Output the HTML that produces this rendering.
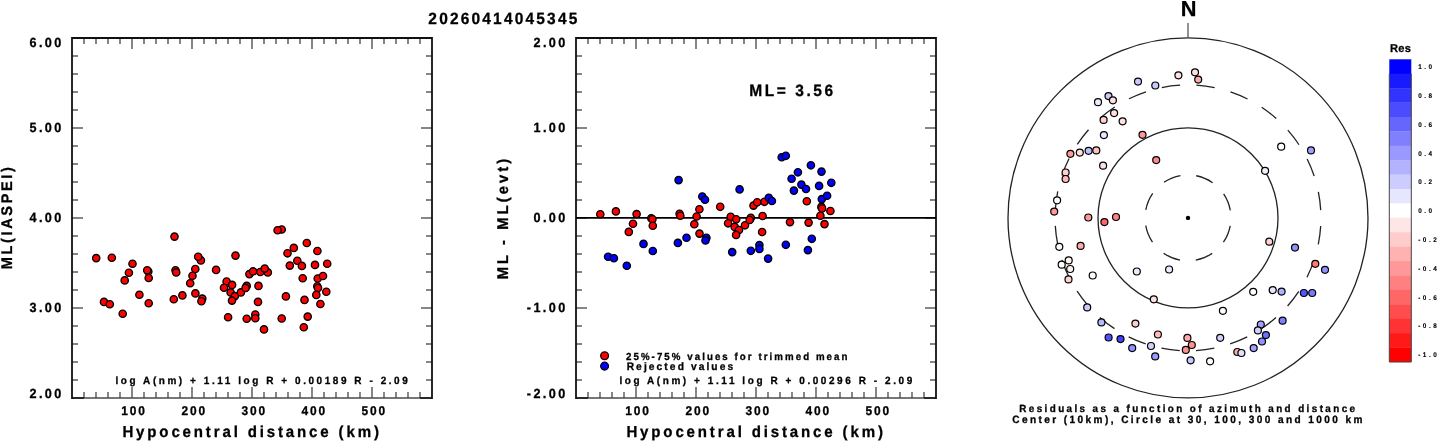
<!DOCTYPE html>
<html><head><meta charset="utf-8"><style>html,body{margin:0;padding:0;background:#fff;}svg{display:block;will-change:transform;} text{text-rendering:geometricPrecision;stroke:#000;stroke-width:0.3px;paint-order:stroke;}</style></head>
<body><svg width="1437" height="441" viewBox="0 0 1437 441" font-family="Liberation Sans, sans-serif" font-weight="bold">
<rect width="1437" height="441" fill="#fff"/>
<text transform="translate(428.35,24) scale(0.95,1)" font-size="16.29" letter-spacing="2.309" fill="#000">20260414045345</text>
<line x1="84" y1="398.0" x2="84" y2="392.0" stroke="#444" stroke-width="1.3" />
<line x1="84" y1="38.0" x2="84" y2="44.0" stroke="#444" stroke-width="1.3" />
<line x1="96" y1="398.0" x2="96" y2="392.0" stroke="#444" stroke-width="1.3" />
<line x1="96" y1="38.0" x2="96" y2="44.0" stroke="#444" stroke-width="1.3" />
<line x1="108" y1="398.0" x2="108" y2="392.0" stroke="#444" stroke-width="1.3" />
<line x1="108" y1="38.0" x2="108" y2="44.0" stroke="#444" stroke-width="1.3" />
<line x1="120" y1="398.0" x2="120" y2="392.0" stroke="#444" stroke-width="1.3" />
<line x1="120" y1="38.0" x2="120" y2="44.0" stroke="#444" stroke-width="1.3" />
<line x1="132" y1="398.0" x2="132" y2="387.0" stroke="#444" stroke-width="1.3" />
<line x1="132" y1="38.0" x2="132" y2="49.0" stroke="#444" stroke-width="1.3" />
<line x1="144" y1="398.0" x2="144" y2="392.0" stroke="#444" stroke-width="1.3" />
<line x1="144" y1="38.0" x2="144" y2="44.0" stroke="#444" stroke-width="1.3" />
<line x1="156" y1="398.0" x2="156" y2="392.0" stroke="#444" stroke-width="1.3" />
<line x1="156" y1="38.0" x2="156" y2="44.0" stroke="#444" stroke-width="1.3" />
<line x1="168" y1="398.0" x2="168" y2="392.0" stroke="#444" stroke-width="1.3" />
<line x1="168" y1="38.0" x2="168" y2="44.0" stroke="#444" stroke-width="1.3" />
<line x1="180" y1="398.0" x2="180" y2="392.0" stroke="#444" stroke-width="1.3" />
<line x1="180" y1="38.0" x2="180" y2="44.0" stroke="#444" stroke-width="1.3" />
<line x1="192" y1="398.0" x2="192" y2="387.0" stroke="#444" stroke-width="1.3" />
<line x1="192" y1="38.0" x2="192" y2="49.0" stroke="#444" stroke-width="1.3" />
<line x1="204" y1="398.0" x2="204" y2="392.0" stroke="#444" stroke-width="1.3" />
<line x1="204" y1="38.0" x2="204" y2="44.0" stroke="#444" stroke-width="1.3" />
<line x1="216" y1="398.0" x2="216" y2="392.0" stroke="#444" stroke-width="1.3" />
<line x1="216" y1="38.0" x2="216" y2="44.0" stroke="#444" stroke-width="1.3" />
<line x1="228" y1="398.0" x2="228" y2="392.0" stroke="#444" stroke-width="1.3" />
<line x1="228" y1="38.0" x2="228" y2="44.0" stroke="#444" stroke-width="1.3" />
<line x1="240" y1="398.0" x2="240" y2="392.0" stroke="#444" stroke-width="1.3" />
<line x1="240" y1="38.0" x2="240" y2="44.0" stroke="#444" stroke-width="1.3" />
<line x1="252" y1="398.0" x2="252" y2="387.0" stroke="#444" stroke-width="1.3" />
<line x1="252" y1="38.0" x2="252" y2="49.0" stroke="#444" stroke-width="1.3" />
<line x1="264" y1="398.0" x2="264" y2="392.0" stroke="#444" stroke-width="1.3" />
<line x1="264" y1="38.0" x2="264" y2="44.0" stroke="#444" stroke-width="1.3" />
<line x1="276" y1="398.0" x2="276" y2="392.0" stroke="#444" stroke-width="1.3" />
<line x1="276" y1="38.0" x2="276" y2="44.0" stroke="#444" stroke-width="1.3" />
<line x1="288" y1="398.0" x2="288" y2="392.0" stroke="#444" stroke-width="1.3" />
<line x1="288" y1="38.0" x2="288" y2="44.0" stroke="#444" stroke-width="1.3" />
<line x1="300" y1="398.0" x2="300" y2="392.0" stroke="#444" stroke-width="1.3" />
<line x1="300" y1="38.0" x2="300" y2="44.0" stroke="#444" stroke-width="1.3" />
<line x1="312" y1="398.0" x2="312" y2="387.0" stroke="#444" stroke-width="1.3" />
<line x1="312" y1="38.0" x2="312" y2="49.0" stroke="#444" stroke-width="1.3" />
<line x1="324" y1="398.0" x2="324" y2="392.0" stroke="#444" stroke-width="1.3" />
<line x1="324" y1="38.0" x2="324" y2="44.0" stroke="#444" stroke-width="1.3" />
<line x1="336" y1="398.0" x2="336" y2="392.0" stroke="#444" stroke-width="1.3" />
<line x1="336" y1="38.0" x2="336" y2="44.0" stroke="#444" stroke-width="1.3" />
<line x1="348" y1="398.0" x2="348" y2="392.0" stroke="#444" stroke-width="1.3" />
<line x1="348" y1="38.0" x2="348" y2="44.0" stroke="#444" stroke-width="1.3" />
<line x1="360" y1="398.0" x2="360" y2="392.0" stroke="#444" stroke-width="1.3" />
<line x1="360" y1="38.0" x2="360" y2="44.0" stroke="#444" stroke-width="1.3" />
<line x1="372" y1="398.0" x2="372" y2="387.0" stroke="#444" stroke-width="1.3" />
<line x1="372" y1="38.0" x2="372" y2="49.0" stroke="#444" stroke-width="1.3" />
<line x1="384" y1="398.0" x2="384" y2="392.0" stroke="#444" stroke-width="1.3" />
<line x1="384" y1="38.0" x2="384" y2="44.0" stroke="#444" stroke-width="1.3" />
<line x1="396" y1="398.0" x2="396" y2="392.0" stroke="#444" stroke-width="1.3" />
<line x1="396" y1="38.0" x2="396" y2="44.0" stroke="#444" stroke-width="1.3" />
<line x1="408" y1="398.0" x2="408" y2="392.0" stroke="#444" stroke-width="1.3" />
<line x1="408" y1="38.0" x2="408" y2="44.0" stroke="#444" stroke-width="1.3" />
<line x1="420" y1="398.0" x2="420" y2="392.0" stroke="#444" stroke-width="1.3" />
<line x1="420" y1="38.0" x2="420" y2="44.0" stroke="#444" stroke-width="1.3" />
<line x1="72" y1="56.0" x2="78" y2="56.0" stroke="#444" stroke-width="1.3" />
<line x1="432" y1="56.0" x2="426" y2="56.0" stroke="#444" stroke-width="1.3" />
<line x1="72" y1="74.0" x2="78" y2="74.0" stroke="#444" stroke-width="1.3" />
<line x1="432" y1="74.0" x2="426" y2="74.0" stroke="#444" stroke-width="1.3" />
<line x1="72" y1="92.0" x2="78" y2="92.0" stroke="#444" stroke-width="1.3" />
<line x1="432" y1="92.0" x2="426" y2="92.0" stroke="#444" stroke-width="1.3" />
<line x1="72" y1="110.0" x2="78" y2="110.0" stroke="#444" stroke-width="1.3" />
<line x1="432" y1="110.0" x2="426" y2="110.0" stroke="#444" stroke-width="1.3" />
<line x1="72" y1="128.0" x2="83" y2="128.0" stroke="#444" stroke-width="1.3" />
<line x1="432" y1="128.0" x2="421" y2="128.0" stroke="#444" stroke-width="1.3" />
<line x1="72" y1="146.0" x2="78" y2="146.0" stroke="#444" stroke-width="1.3" />
<line x1="432" y1="146.0" x2="426" y2="146.0" stroke="#444" stroke-width="1.3" />
<line x1="72" y1="164.0" x2="78" y2="164.0" stroke="#444" stroke-width="1.3" />
<line x1="432" y1="164.0" x2="426" y2="164.0" stroke="#444" stroke-width="1.3" />
<line x1="72" y1="182.0" x2="78" y2="182.0" stroke="#444" stroke-width="1.3" />
<line x1="432" y1="182.0" x2="426" y2="182.0" stroke="#444" stroke-width="1.3" />
<line x1="72" y1="200.0" x2="78" y2="200.0" stroke="#444" stroke-width="1.3" />
<line x1="432" y1="200.0" x2="426" y2="200.0" stroke="#444" stroke-width="1.3" />
<line x1="72" y1="218.0" x2="83" y2="218.0" stroke="#444" stroke-width="1.3" />
<line x1="432" y1="218.0" x2="421" y2="218.0" stroke="#444" stroke-width="1.3" />
<line x1="72" y1="236.0" x2="78" y2="236.0" stroke="#444" stroke-width="1.3" />
<line x1="432" y1="236.0" x2="426" y2="236.0" stroke="#444" stroke-width="1.3" />
<line x1="72" y1="254.0" x2="78" y2="254.0" stroke="#444" stroke-width="1.3" />
<line x1="432" y1="254.0" x2="426" y2="254.0" stroke="#444" stroke-width="1.3" />
<line x1="72" y1="272.0" x2="78" y2="272.0" stroke="#444" stroke-width="1.3" />
<line x1="432" y1="272.0" x2="426" y2="272.0" stroke="#444" stroke-width="1.3" />
<line x1="72" y1="290.0" x2="78" y2="290.0" stroke="#444" stroke-width="1.3" />
<line x1="432" y1="290.0" x2="426" y2="290.0" stroke="#444" stroke-width="1.3" />
<line x1="72" y1="308.0" x2="83" y2="308.0" stroke="#444" stroke-width="1.3" />
<line x1="432" y1="308.0" x2="421" y2="308.0" stroke="#444" stroke-width="1.3" />
<line x1="72" y1="326.0" x2="78" y2="326.0" stroke="#444" stroke-width="1.3" />
<line x1="432" y1="326.0" x2="426" y2="326.0" stroke="#444" stroke-width="1.3" />
<line x1="72" y1="344.0" x2="78" y2="344.0" stroke="#444" stroke-width="1.3" />
<line x1="432" y1="344.0" x2="426" y2="344.0" stroke="#444" stroke-width="1.3" />
<line x1="72" y1="362.0" x2="78" y2="362.0" stroke="#444" stroke-width="1.3" />
<line x1="432" y1="362.0" x2="426" y2="362.0" stroke="#444" stroke-width="1.3" />
<line x1="72" y1="380.0" x2="78" y2="380.0" stroke="#444" stroke-width="1.3" />
<line x1="432" y1="380.0" x2="426" y2="380.0" stroke="#444" stroke-width="1.3" />
<path d="M72 398.0 L72 38.0 L432 38.0 L432 398.0" fill="none" stroke="#111" stroke-width="1.8" stroke-linejoin="miter" stroke-linecap="square"/>
<line x1="72" y1="398.0" x2="84" y2="398.0" stroke="#111" stroke-width="1.8" />
<line x1="420" y1="398.0" x2="432" y2="398.0" stroke="#111" stroke-width="1.8" />
<line x1="84" y1="398.0" x2="420" y2="398.0" stroke="#4a4a4a" stroke-width="1.6" />
<text transform="translate(29.46,47) scale(0.95,1)" font-size="13.29" letter-spacing="2.563" fill="#000">6.00</text>
<text transform="translate(29.46,132) scale(0.95,1)" font-size="13.29" letter-spacing="2.563" fill="#000">5.00</text>
<text transform="translate(29.46,222) scale(0.95,1)" font-size="13.29" letter-spacing="2.563" fill="#000">4.00</text>
<text transform="translate(29.46,312) scale(0.95,1)" font-size="13.29" letter-spacing="2.563" fill="#000">3.00</text>
<text transform="translate(29.46,398) scale(0.95,1)" font-size="13.29" letter-spacing="2.563" fill="#000">2.00</text>
<text transform="translate(121.37,415) scale(0.95,1)" font-size="12.57" letter-spacing="1.956" fill="#000">100</text>
<text transform="translate(181.5,415) scale(0.95,1)" font-size="12.57" letter-spacing="1.956" fill="#000">200</text>
<text transform="translate(241.44,415) scale(0.95,1)" font-size="12.57" letter-spacing="1.956" fill="#000">300</text>
<text transform="translate(301.56,415) scale(0.95,1)" font-size="12.57" letter-spacing="1.956" fill="#000">400</text>
<text transform="translate(361.4,415) scale(0.95,1)" font-size="12.57" letter-spacing="1.956" fill="#000">500</text>
<text transform="translate(122.39,437) scale(0.95,1)" font-size="15.83" letter-spacing="3.004" fill="#000">Hypocentral distance (km)</text>
<text transform="translate(12,269.15) rotate(-90) scale(0.95,1)" font-size="15.35" letter-spacing="2.733" fill="#000">ML(IASPEI)</text>
<line x1="588" y1="398.0" x2="588" y2="392.0" stroke="#444" stroke-width="1.3" />
<line x1="588" y1="38.0" x2="588" y2="44.0" stroke="#444" stroke-width="1.3" />
<line x1="600" y1="398.0" x2="600" y2="392.0" stroke="#444" stroke-width="1.3" />
<line x1="600" y1="38.0" x2="600" y2="44.0" stroke="#444" stroke-width="1.3" />
<line x1="612" y1="398.0" x2="612" y2="392.0" stroke="#444" stroke-width="1.3" />
<line x1="612" y1="38.0" x2="612" y2="44.0" stroke="#444" stroke-width="1.3" />
<line x1="624" y1="398.0" x2="624" y2="392.0" stroke="#444" stroke-width="1.3" />
<line x1="624" y1="38.0" x2="624" y2="44.0" stroke="#444" stroke-width="1.3" />
<line x1="636" y1="398.0" x2="636" y2="387.0" stroke="#444" stroke-width="1.3" />
<line x1="636" y1="38.0" x2="636" y2="49.0" stroke="#444" stroke-width="1.3" />
<line x1="648" y1="398.0" x2="648" y2="392.0" stroke="#444" stroke-width="1.3" />
<line x1="648" y1="38.0" x2="648" y2="44.0" stroke="#444" stroke-width="1.3" />
<line x1="660" y1="398.0" x2="660" y2="392.0" stroke="#444" stroke-width="1.3" />
<line x1="660" y1="38.0" x2="660" y2="44.0" stroke="#444" stroke-width="1.3" />
<line x1="672" y1="398.0" x2="672" y2="392.0" stroke="#444" stroke-width="1.3" />
<line x1="672" y1="38.0" x2="672" y2="44.0" stroke="#444" stroke-width="1.3" />
<line x1="684" y1="398.0" x2="684" y2="392.0" stroke="#444" stroke-width="1.3" />
<line x1="684" y1="38.0" x2="684" y2="44.0" stroke="#444" stroke-width="1.3" />
<line x1="696" y1="398.0" x2="696" y2="387.0" stroke="#444" stroke-width="1.3" />
<line x1="696" y1="38.0" x2="696" y2="49.0" stroke="#444" stroke-width="1.3" />
<line x1="708" y1="398.0" x2="708" y2="392.0" stroke="#444" stroke-width="1.3" />
<line x1="708" y1="38.0" x2="708" y2="44.0" stroke="#444" stroke-width="1.3" />
<line x1="720" y1="398.0" x2="720" y2="392.0" stroke="#444" stroke-width="1.3" />
<line x1="720" y1="38.0" x2="720" y2="44.0" stroke="#444" stroke-width="1.3" />
<line x1="732" y1="398.0" x2="732" y2="392.0" stroke="#444" stroke-width="1.3" />
<line x1="732" y1="38.0" x2="732" y2="44.0" stroke="#444" stroke-width="1.3" />
<line x1="744" y1="398.0" x2="744" y2="392.0" stroke="#444" stroke-width="1.3" />
<line x1="744" y1="38.0" x2="744" y2="44.0" stroke="#444" stroke-width="1.3" />
<line x1="756" y1="398.0" x2="756" y2="387.0" stroke="#444" stroke-width="1.3" />
<line x1="756" y1="38.0" x2="756" y2="49.0" stroke="#444" stroke-width="1.3" />
<line x1="768" y1="398.0" x2="768" y2="392.0" stroke="#444" stroke-width="1.3" />
<line x1="768" y1="38.0" x2="768" y2="44.0" stroke="#444" stroke-width="1.3" />
<line x1="780" y1="398.0" x2="780" y2="392.0" stroke="#444" stroke-width="1.3" />
<line x1="780" y1="38.0" x2="780" y2="44.0" stroke="#444" stroke-width="1.3" />
<line x1="792" y1="398.0" x2="792" y2="392.0" stroke="#444" stroke-width="1.3" />
<line x1="792" y1="38.0" x2="792" y2="44.0" stroke="#444" stroke-width="1.3" />
<line x1="804" y1="398.0" x2="804" y2="392.0" stroke="#444" stroke-width="1.3" />
<line x1="804" y1="38.0" x2="804" y2="44.0" stroke="#444" stroke-width="1.3" />
<line x1="816" y1="398.0" x2="816" y2="387.0" stroke="#444" stroke-width="1.3" />
<line x1="816" y1="38.0" x2="816" y2="49.0" stroke="#444" stroke-width="1.3" />
<line x1="828" y1="398.0" x2="828" y2="392.0" stroke="#444" stroke-width="1.3" />
<line x1="828" y1="38.0" x2="828" y2="44.0" stroke="#444" stroke-width="1.3" />
<line x1="840" y1="398.0" x2="840" y2="392.0" stroke="#444" stroke-width="1.3" />
<line x1="840" y1="38.0" x2="840" y2="44.0" stroke="#444" stroke-width="1.3" />
<line x1="852" y1="398.0" x2="852" y2="392.0" stroke="#444" stroke-width="1.3" />
<line x1="852" y1="38.0" x2="852" y2="44.0" stroke="#444" stroke-width="1.3" />
<line x1="864" y1="398.0" x2="864" y2="392.0" stroke="#444" stroke-width="1.3" />
<line x1="864" y1="38.0" x2="864" y2="44.0" stroke="#444" stroke-width="1.3" />
<line x1="876" y1="398.0" x2="876" y2="387.0" stroke="#444" stroke-width="1.3" />
<line x1="876" y1="38.0" x2="876" y2="49.0" stroke="#444" stroke-width="1.3" />
<line x1="888" y1="398.0" x2="888" y2="392.0" stroke="#444" stroke-width="1.3" />
<line x1="888" y1="38.0" x2="888" y2="44.0" stroke="#444" stroke-width="1.3" />
<line x1="900" y1="398.0" x2="900" y2="392.0" stroke="#444" stroke-width="1.3" />
<line x1="900" y1="38.0" x2="900" y2="44.0" stroke="#444" stroke-width="1.3" />
<line x1="912" y1="398.0" x2="912" y2="392.0" stroke="#444" stroke-width="1.3" />
<line x1="912" y1="38.0" x2="912" y2="44.0" stroke="#444" stroke-width="1.3" />
<line x1="924" y1="398.0" x2="924" y2="392.0" stroke="#444" stroke-width="1.3" />
<line x1="924" y1="38.0" x2="924" y2="44.0" stroke="#444" stroke-width="1.3" />
<line x1="576" y1="56.0" x2="582" y2="56.0" stroke="#444" stroke-width="1.3" />
<line x1="936" y1="56.0" x2="930" y2="56.0" stroke="#444" stroke-width="1.3" />
<line x1="576" y1="74.0" x2="582" y2="74.0" stroke="#444" stroke-width="1.3" />
<line x1="936" y1="74.0" x2="930" y2="74.0" stroke="#444" stroke-width="1.3" />
<line x1="576" y1="92.0" x2="582" y2="92.0" stroke="#444" stroke-width="1.3" />
<line x1="936" y1="92.0" x2="930" y2="92.0" stroke="#444" stroke-width="1.3" />
<line x1="576" y1="110.0" x2="582" y2="110.0" stroke="#444" stroke-width="1.3" />
<line x1="936" y1="110.0" x2="930" y2="110.0" stroke="#444" stroke-width="1.3" />
<line x1="576" y1="128.0" x2="587" y2="128.0" stroke="#444" stroke-width="1.3" />
<line x1="936" y1="128.0" x2="925" y2="128.0" stroke="#444" stroke-width="1.3" />
<line x1="576" y1="146.0" x2="582" y2="146.0" stroke="#444" stroke-width="1.3" />
<line x1="936" y1="146.0" x2="930" y2="146.0" stroke="#444" stroke-width="1.3" />
<line x1="576" y1="164.0" x2="582" y2="164.0" stroke="#444" stroke-width="1.3" />
<line x1="936" y1="164.0" x2="930" y2="164.0" stroke="#444" stroke-width="1.3" />
<line x1="576" y1="182.0" x2="582" y2="182.0" stroke="#444" stroke-width="1.3" />
<line x1="936" y1="182.0" x2="930" y2="182.0" stroke="#444" stroke-width="1.3" />
<line x1="576" y1="200.0" x2="582" y2="200.0" stroke="#444" stroke-width="1.3" />
<line x1="936" y1="200.0" x2="930" y2="200.0" stroke="#444" stroke-width="1.3" />
<line x1="576" y1="218.0" x2="587" y2="218.0" stroke="#444" stroke-width="1.3" />
<line x1="936" y1="218.0" x2="925" y2="218.0" stroke="#444" stroke-width="1.3" />
<line x1="576" y1="236.0" x2="582" y2="236.0" stroke="#444" stroke-width="1.3" />
<line x1="936" y1="236.0" x2="930" y2="236.0" stroke="#444" stroke-width="1.3" />
<line x1="576" y1="254.0" x2="582" y2="254.0" stroke="#444" stroke-width="1.3" />
<line x1="936" y1="254.0" x2="930" y2="254.0" stroke="#444" stroke-width="1.3" />
<line x1="576" y1="272.0" x2="582" y2="272.0" stroke="#444" stroke-width="1.3" />
<line x1="936" y1="272.0" x2="930" y2="272.0" stroke="#444" stroke-width="1.3" />
<line x1="576" y1="290.0" x2="582" y2="290.0" stroke="#444" stroke-width="1.3" />
<line x1="936" y1="290.0" x2="930" y2="290.0" stroke="#444" stroke-width="1.3" />
<line x1="576" y1="308.0" x2="587" y2="308.0" stroke="#444" stroke-width="1.3" />
<line x1="936" y1="308.0" x2="925" y2="308.0" stroke="#444" stroke-width="1.3" />
<line x1="576" y1="326.0" x2="582" y2="326.0" stroke="#444" stroke-width="1.3" />
<line x1="936" y1="326.0" x2="930" y2="326.0" stroke="#444" stroke-width="1.3" />
<line x1="576" y1="344.0" x2="582" y2="344.0" stroke="#444" stroke-width="1.3" />
<line x1="936" y1="344.0" x2="930" y2="344.0" stroke="#444" stroke-width="1.3" />
<line x1="576" y1="362.0" x2="582" y2="362.0" stroke="#444" stroke-width="1.3" />
<line x1="936" y1="362.0" x2="930" y2="362.0" stroke="#444" stroke-width="1.3" />
<line x1="576" y1="380.0" x2="582" y2="380.0" stroke="#444" stroke-width="1.3" />
<line x1="936" y1="380.0" x2="930" y2="380.0" stroke="#444" stroke-width="1.3" />
<path d="M576 398.0 L576 38.0 L936 38.0 L936 398.0" fill="none" stroke="#111" stroke-width="1.8" stroke-linejoin="miter" stroke-linecap="square"/>
<line x1="576" y1="398.0" x2="588" y2="398.0" stroke="#111" stroke-width="1.8" />
<line x1="924" y1="398.0" x2="936" y2="398.0" stroke="#111" stroke-width="1.8" />
<line x1="588" y1="398.0" x2="924" y2="398.0" stroke="#4a4a4a" stroke-width="1.6" />
<text transform="translate(533.46,47) scale(0.95,1)" font-size="13.29" letter-spacing="2.563" fill="#000">2.00</text>
<text transform="translate(533.46,132) scale(0.95,1)" font-size="13.29" letter-spacing="2.563" fill="#000">1.00</text>
<text transform="translate(533.46,222) scale(0.95,1)" font-size="13.29" letter-spacing="2.563" fill="#000">0.00</text>
<text transform="translate(526.78,312) scale(0.95,1)" font-size="13.29" letter-spacing="2.563" fill="#000">-1.00</text>
<text transform="translate(526.78,398) scale(0.95,1)" font-size="13.29" letter-spacing="2.563" fill="#000">-2.00</text>
<text transform="translate(625.37,415) scale(0.95,1)" font-size="12.57" letter-spacing="1.956" fill="#000">100</text>
<text transform="translate(685.5,415) scale(0.95,1)" font-size="12.57" letter-spacing="1.956" fill="#000">200</text>
<text transform="translate(745.44,415) scale(0.95,1)" font-size="12.57" letter-spacing="1.956" fill="#000">300</text>
<text transform="translate(805.56,415) scale(0.95,1)" font-size="12.57" letter-spacing="1.956" fill="#000">400</text>
<text transform="translate(865.4,415) scale(0.95,1)" font-size="12.57" letter-spacing="1.956" fill="#000">500</text>
<text transform="translate(626.39,437) scale(0.95,1)" font-size="15.83" letter-spacing="3.004" fill="#000">Hypocentral distance (km)</text>
<text transform="translate(508,279.26) rotate(-90) scale(0.95,1)" font-size="15.55" letter-spacing="3.234" fill="#000">ML - ML(evt)</text>
<text transform="translate(115.52,384) scale(0.95,1)" font-size="10.5" letter-spacing="2.696" fill="#000">log A(nm) + 1.11 log R + 0.00189 R - 2.09</text>
<text transform="translate(619.42,384) scale(0.95,1)" font-size="10.5" letter-spacing="2.711" fill="#000">log A(nm) + 1.11 log R + 0.00296 R - 2.09</text>
<circle cx="96.2" cy="258.1" r="3.65" fill="#f00" stroke="#000" stroke-width="1.35"/>
<circle cx="111.8" cy="257.8" r="3.65" fill="#f00" stroke="#000" stroke-width="1.35"/>
<circle cx="174.5" cy="236.6" r="3.65" fill="#f00" stroke="#000" stroke-width="1.35"/>
<circle cx="132.5" cy="263.8" r="3.65" fill="#f00" stroke="#000" stroke-width="1.35"/>
<circle cx="128.9" cy="272.8" r="3.65" fill="#f00" stroke="#000" stroke-width="1.35"/>
<circle cx="148.3" cy="271.5" r="3.65" fill="#f00" stroke="#000" stroke-width="1.35"/>
<circle cx="147.2" cy="270.3" r="3.65" fill="#f00" stroke="#000" stroke-width="1.35"/>
<circle cx="148.7" cy="278" r="3.65" fill="#f00" stroke="#000" stroke-width="1.35"/>
<circle cx="175.5" cy="270.3" r="3.65" fill="#f00" stroke="#000" stroke-width="1.35"/>
<circle cx="176.2" cy="272.4" r="3.65" fill="#f00" stroke="#000" stroke-width="1.35"/>
<circle cx="200.9" cy="260.4" r="3.65" fill="#f00" stroke="#000" stroke-width="1.35"/>
<circle cx="198.2" cy="256.8" r="3.65" fill="#f00" stroke="#000" stroke-width="1.35"/>
<circle cx="195.3" cy="269" r="3.65" fill="#f00" stroke="#000" stroke-width="1.35"/>
<circle cx="192.5" cy="275.8" r="3.65" fill="#f00" stroke="#000" stroke-width="1.35"/>
<circle cx="124.7" cy="280.4" r="3.65" fill="#f00" stroke="#000" stroke-width="1.35"/>
<circle cx="190.2" cy="283.2" r="3.65" fill="#f00" stroke="#000" stroke-width="1.35"/>
<circle cx="139.4" cy="294.7" r="3.65" fill="#f00" stroke="#000" stroke-width="1.35"/>
<circle cx="104" cy="301.9" r="3.65" fill="#f00" stroke="#000" stroke-width="1.35"/>
<circle cx="109.8" cy="304.3" r="3.65" fill="#f00" stroke="#000" stroke-width="1.35"/>
<circle cx="148.7" cy="303.3" r="3.65" fill="#f00" stroke="#000" stroke-width="1.35"/>
<circle cx="122.7" cy="313.8" r="3.65" fill="#f00" stroke="#000" stroke-width="1.35"/>
<circle cx="173.8" cy="299.2" r="3.65" fill="#f00" stroke="#000" stroke-width="1.35"/>
<circle cx="182.4" cy="295.4" r="3.65" fill="#f00" stroke="#000" stroke-width="1.35"/>
<circle cx="195.4" cy="293.4" r="3.65" fill="#f00" stroke="#000" stroke-width="1.35"/>
<circle cx="202.3" cy="298.6" r="3.65" fill="#f00" stroke="#000" stroke-width="1.35"/>
<circle cx="201.4" cy="301.2" r="3.65" fill="#f00" stroke="#000" stroke-width="1.35"/>
<circle cx="281.7" cy="229.5" r="3.65" fill="#f00" stroke="#000" stroke-width="1.35"/>
<circle cx="277.6" cy="230.2" r="3.65" fill="#f00" stroke="#000" stroke-width="1.35"/>
<circle cx="306.8" cy="243" r="3.65" fill="#f00" stroke="#000" stroke-width="1.35"/>
<circle cx="293.8" cy="247.9" r="3.65" fill="#f00" stroke="#000" stroke-width="1.35"/>
<circle cx="287.5" cy="253.3" r="3.65" fill="#f00" stroke="#000" stroke-width="1.35"/>
<circle cx="235.5" cy="255.6" r="3.65" fill="#f00" stroke="#000" stroke-width="1.35"/>
<circle cx="216.1" cy="269.9" r="3.65" fill="#f00" stroke="#000" stroke-width="1.35"/>
<circle cx="249.4" cy="274.1" r="3.65" fill="#f00" stroke="#000" stroke-width="1.35"/>
<circle cx="253.1" cy="271.4" r="3.65" fill="#f00" stroke="#000" stroke-width="1.35"/>
<circle cx="260.3" cy="272" r="3.65" fill="#f00" stroke="#000" stroke-width="1.35"/>
<circle cx="267.8" cy="272.4" r="3.65" fill="#f00" stroke="#000" stroke-width="1.35"/>
<circle cx="264.7" cy="268.6" r="3.65" fill="#f00" stroke="#000" stroke-width="1.35"/>
<circle cx="289.8" cy="265.6" r="3.65" fill="#f00" stroke="#000" stroke-width="1.35"/>
<circle cx="297.3" cy="260.8" r="3.65" fill="#f00" stroke="#000" stroke-width="1.35"/>
<circle cx="301.9" cy="265.9" r="3.65" fill="#f00" stroke="#000" stroke-width="1.35"/>
<circle cx="302.7" cy="278.2" r="3.65" fill="#f00" stroke="#000" stroke-width="1.35"/>
<circle cx="226.6" cy="281.5" r="3.65" fill="#f00" stroke="#000" stroke-width="1.35"/>
<circle cx="232.1" cy="284.9" r="3.65" fill="#f00" stroke="#000" stroke-width="1.35"/>
<circle cx="224" cy="287.7" r="3.65" fill="#f00" stroke="#000" stroke-width="1.35"/>
<circle cx="230.6" cy="292.4" r="3.65" fill="#f00" stroke="#000" stroke-width="1.35"/>
<circle cx="234.9" cy="296.1" r="3.65" fill="#f00" stroke="#000" stroke-width="1.35"/>
<circle cx="232" cy="300.6" r="3.65" fill="#f00" stroke="#000" stroke-width="1.35"/>
<circle cx="240.9" cy="292.4" r="3.65" fill="#f00" stroke="#000" stroke-width="1.35"/>
<circle cx="246.7" cy="285.9" r="3.65" fill="#f00" stroke="#000" stroke-width="1.35"/>
<circle cx="245.6" cy="287.9" r="3.65" fill="#f00" stroke="#000" stroke-width="1.35"/>
<circle cx="258.5" cy="285.9" r="3.65" fill="#f00" stroke="#000" stroke-width="1.35"/>
<circle cx="258" cy="301.9" r="3.65" fill="#f00" stroke="#000" stroke-width="1.35"/>
<circle cx="285.9" cy="296.4" r="3.65" fill="#f00" stroke="#000" stroke-width="1.35"/>
<circle cx="304.5" cy="299.9" r="3.65" fill="#f00" stroke="#000" stroke-width="1.35"/>
<circle cx="228.1" cy="317.2" r="3.65" fill="#f00" stroke="#000" stroke-width="1.35"/>
<circle cx="246.7" cy="318.8" r="3.65" fill="#f00" stroke="#000" stroke-width="1.35"/>
<circle cx="255.3" cy="314.5" r="3.65" fill="#f00" stroke="#000" stroke-width="1.35"/>
<circle cx="255.3" cy="318.3" r="3.65" fill="#f00" stroke="#000" stroke-width="1.35"/>
<circle cx="264" cy="329.4" r="3.65" fill="#f00" stroke="#000" stroke-width="1.35"/>
<circle cx="281.7" cy="318.5" r="3.65" fill="#f00" stroke="#000" stroke-width="1.35"/>
<circle cx="307.7" cy="316.6" r="3.65" fill="#f00" stroke="#000" stroke-width="1.35"/>
<circle cx="303.8" cy="327.3" r="3.65" fill="#f00" stroke="#000" stroke-width="1.35"/>
<circle cx="317.4" cy="251" r="3.65" fill="#f00" stroke="#000" stroke-width="1.35"/>
<circle cx="315" cy="264.9" r="3.65" fill="#f00" stroke="#000" stroke-width="1.35"/>
<circle cx="327.2" cy="263.8" r="3.65" fill="#f00" stroke="#000" stroke-width="1.35"/>
<circle cx="317.7" cy="278.5" r="3.65" fill="#f00" stroke="#000" stroke-width="1.35"/>
<circle cx="323" cy="276" r="3.65" fill="#f00" stroke="#000" stroke-width="1.35"/>
<circle cx="317.3" cy="286.3" r="3.65" fill="#f00" stroke="#000" stroke-width="1.35"/>
<circle cx="318" cy="288" r="3.65" fill="#f00" stroke="#000" stroke-width="1.35"/>
<circle cx="326.3" cy="291.8" r="3.65" fill="#f00" stroke="#000" stroke-width="1.35"/>
<circle cx="316.3" cy="294.9" r="3.65" fill="#f00" stroke="#000" stroke-width="1.35"/>
<circle cx="320.4" cy="304" r="3.65" fill="#f00" stroke="#000" stroke-width="1.35"/>
<line x1="576" y1="217.9" x2="936" y2="217.9" stroke="#000" stroke-width="1.7" />
<circle cx="600.3" cy="214.2" r="3.65" fill="#f00" stroke="#000" stroke-width="1.35"/>
<circle cx="615.9" cy="211.4" r="3.65" fill="#f00" stroke="#000" stroke-width="1.35"/>
<circle cx="678.6" cy="180.1" r="3.65" fill="#00f" stroke="#000" stroke-width="1.35"/>
<circle cx="636.6" cy="214.1" r="3.65" fill="#f00" stroke="#000" stroke-width="1.35"/>
<circle cx="633.0" cy="223.7" r="3.65" fill="#f00" stroke="#000" stroke-width="1.35"/>
<circle cx="651.3" cy="218.2" r="3.65" fill="#f00" stroke="#000" stroke-width="1.35"/>
<circle cx="652.4" cy="219.3" r="3.65" fill="#f00" stroke="#000" stroke-width="1.35"/>
<circle cx="652.8" cy="225.7" r="3.65" fill="#f00" stroke="#000" stroke-width="1.35"/>
<circle cx="679.6" cy="213.7" r="3.65" fill="#f00" stroke="#000" stroke-width="1.35"/>
<circle cx="680.3" cy="215.7" r="3.65" fill="#f00" stroke="#000" stroke-width="1.35"/>
<circle cx="702.3" cy="196.5" r="3.65" fill="#00f" stroke="#000" stroke-width="1.35"/>
<circle cx="705.0" cy="199.7" r="3.65" fill="#00f" stroke="#000" stroke-width="1.35"/>
<circle cx="699.4" cy="209.2" r="3.65" fill="#f00" stroke="#000" stroke-width="1.35"/>
<circle cx="696.6" cy="216.5" r="3.65" fill="#f00" stroke="#000" stroke-width="1.35"/>
<circle cx="628.8" cy="231.9" r="3.65" fill="#f00" stroke="#000" stroke-width="1.35"/>
<circle cx="694.3" cy="224.2" r="3.65" fill="#f00" stroke="#000" stroke-width="1.35"/>
<circle cx="643.5" cy="243.9" r="3.65" fill="#00f" stroke="#000" stroke-width="1.35"/>
<circle cx="608.1" cy="256.8" r="3.65" fill="#00f" stroke="#000" stroke-width="1.35"/>
<circle cx="613.9" cy="258.2" r="3.65" fill="#00f" stroke="#000" stroke-width="1.35"/>
<circle cx="652.8" cy="251.0" r="3.65" fill="#00f" stroke="#000" stroke-width="1.35"/>
<circle cx="626.8" cy="265.7" r="3.65" fill="#00f" stroke="#000" stroke-width="1.35"/>
<circle cx="677.9" cy="242.9" r="3.65" fill="#00f" stroke="#000" stroke-width="1.35"/>
<circle cx="686.5" cy="237.7" r="3.65" fill="#00f" stroke="#000" stroke-width="1.35"/>
<circle cx="699.5" cy="233.6" r="3.65" fill="#f00" stroke="#000" stroke-width="1.35"/>
<circle cx="706.4" cy="237.7" r="3.65" fill="#00f" stroke="#000" stroke-width="1.35"/>
<circle cx="705.5" cy="240.4" r="3.65" fill="#00f" stroke="#000" stroke-width="1.35"/>
<circle cx="781.7" cy="157.2" r="3.65" fill="#00f" stroke="#000" stroke-width="1.35"/>
<circle cx="785.8" cy="155.8" r="3.65" fill="#00f" stroke="#000" stroke-width="1.35"/>
<circle cx="810.9" cy="165.3" r="3.65" fill="#00f" stroke="#000" stroke-width="1.35"/>
<circle cx="797.9" cy="172.3" r="3.65" fill="#00f" stroke="#000" stroke-width="1.35"/>
<circle cx="791.6" cy="178.7" r="3.65" fill="#00f" stroke="#000" stroke-width="1.35"/>
<circle cx="739.6" cy="189.4" r="3.65" fill="#00f" stroke="#000" stroke-width="1.35"/>
<circle cx="720.2" cy="206.8" r="3.65" fill="#f00" stroke="#000" stroke-width="1.35"/>
<circle cx="753.5" cy="205.6" r="3.65" fill="#f00" stroke="#000" stroke-width="1.35"/>
<circle cx="757.2" cy="202.3" r="3.65" fill="#f00" stroke="#000" stroke-width="1.35"/>
<circle cx="764.4" cy="201.8" r="3.65" fill="#f00" stroke="#000" stroke-width="1.35"/>
<circle cx="768.8" cy="197.7" r="3.65" fill="#00f" stroke="#000" stroke-width="1.35"/>
<circle cx="771.9" cy="201.0" r="3.65" fill="#00f" stroke="#000" stroke-width="1.35"/>
<circle cx="793.9" cy="190.6" r="3.65" fill="#00f" stroke="#000" stroke-width="1.35"/>
<circle cx="801.4" cy="184.6" r="3.65" fill="#00f" stroke="#000" stroke-width="1.35"/>
<circle cx="806.0" cy="189.0" r="3.65" fill="#00f" stroke="#000" stroke-width="1.35"/>
<circle cx="806.8" cy="201.2" r="3.65" fill="#f00" stroke="#000" stroke-width="1.35"/>
<circle cx="730.7" cy="216.7" r="3.65" fill="#f00" stroke="#000" stroke-width="1.35"/>
<circle cx="736.2" cy="219.2" r="3.65" fill="#f00" stroke="#000" stroke-width="1.35"/>
<circle cx="728.1" cy="223.3" r="3.65" fill="#f00" stroke="#000" stroke-width="1.35"/>
<circle cx="734.7" cy="226.9" r="3.65" fill="#f00" stroke="#000" stroke-width="1.35"/>
<circle cx="739.0" cy="230.0" r="3.65" fill="#f00" stroke="#000" stroke-width="1.35"/>
<circle cx="736.1" cy="234.9" r="3.65" fill="#f00" stroke="#000" stroke-width="1.35"/>
<circle cx="745.0" cy="225.3" r="3.65" fill="#f00" stroke="#000" stroke-width="1.35"/>
<circle cx="750.8" cy="217.9" r="3.65" fill="#f00" stroke="#000" stroke-width="1.35"/>
<circle cx="749.7" cy="220.0" r="3.65" fill="#f00" stroke="#000" stroke-width="1.35"/>
<circle cx="762.6" cy="216.0" r="3.65" fill="#f00" stroke="#000" stroke-width="1.35"/>
<circle cx="762.1" cy="232.0" r="3.65" fill="#f00" stroke="#000" stroke-width="1.35"/>
<circle cx="790.0" cy="222.1" r="3.65" fill="#f00" stroke="#000" stroke-width="1.35"/>
<circle cx="808.6" cy="222.6" r="3.65" fill="#f00" stroke="#000" stroke-width="1.35"/>
<circle cx="732.2" cy="252.1" r="3.65" fill="#00f" stroke="#000" stroke-width="1.35"/>
<circle cx="750.8" cy="250.8" r="3.65" fill="#00f" stroke="#000" stroke-width="1.35"/>
<circle cx="759.4" cy="245.1" r="3.65" fill="#00f" stroke="#000" stroke-width="1.35"/>
<circle cx="759.4" cy="248.9" r="3.65" fill="#00f" stroke="#000" stroke-width="1.35"/>
<circle cx="768.1" cy="258.6" r="3.65" fill="#00f" stroke="#000" stroke-width="1.35"/>
<circle cx="785.8" cy="244.8" r="3.65" fill="#00f" stroke="#000" stroke-width="1.35"/>
<circle cx="811.8" cy="238.8" r="3.65" fill="#00f" stroke="#000" stroke-width="1.35"/>
<circle cx="807.9" cy="250.1" r="3.65" fill="#00f" stroke="#000" stroke-width="1.35"/>
<circle cx="821.5" cy="171.6" r="3.65" fill="#00f" stroke="#000" stroke-width="1.35"/>
<circle cx="819.1" cy="185.9" r="3.65" fill="#00f" stroke="#000" stroke-width="1.35"/>
<circle cx="831.3" cy="182.8" r="3.65" fill="#00f" stroke="#000" stroke-width="1.35"/>
<circle cx="821.8" cy="199.1" r="3.65" fill="#00f" stroke="#000" stroke-width="1.35"/>
<circle cx="827.1" cy="195.7" r="3.65" fill="#00f" stroke="#000" stroke-width="1.35"/>
<circle cx="821.4" cy="206.9" r="3.65" fill="#f00" stroke="#000" stroke-width="1.35"/>
<circle cx="822.1" cy="208.5" r="3.65" fill="#f00" stroke="#000" stroke-width="1.35"/>
<circle cx="830.4" cy="211.0" r="3.65" fill="#f00" stroke="#000" stroke-width="1.35"/>
<circle cx="820.4" cy="215.7" r="3.65" fill="#f00" stroke="#000" stroke-width="1.35"/>
<circle cx="824.5" cy="224.1" r="3.65" fill="#f00" stroke="#000" stroke-width="1.35"/>
<text transform="translate(749.21,96) scale(0.95,1)" font-size="16.33" letter-spacing="2.702" fill="#000">ML= 3.56</text>
<circle cx="604.6" cy="355.8" r="3.9" fill="#f00" stroke="#000" stroke-width="1.3"/>
<circle cx="604.6" cy="366.1" r="3.9" fill="#00f" stroke="#000" stroke-width="1.3"/>
<text transform="translate(625.99,360) scale(0.95,1)" font-size="10.22" letter-spacing="2.166" fill="#000">25%-75% values for trimmed mean</text>
<text transform="translate(626.64,370) scale(0.95,1)" font-size="10.74" letter-spacing="2.212" fill="#000">Rejected values</text>
<circle cx="1188" cy="217.9" r="180" fill="none" stroke="#222" stroke-width="1.3"/>
<circle cx="1188" cy="217.9" r="90" fill="none" stroke="#222" stroke-width="1.3"/>
<circle cx="1188" cy="217.9" r="42.94" fill="none" stroke="#222" stroke-width="1.3" stroke-dasharray="17.874 15.851" stroke-dashoffset="25.800"/>
<circle cx="1188" cy="217.9" r="132.94" fill="none" stroke="#222" stroke-width="1.3" stroke-dasharray="18.446 16.358" stroke-dashoffset="26.625"/>
<circle cx="1188" cy="217.9" r="2.2" fill="#000"/>
<line x1="1188" y1="23" x2="1188" y2="37.9" stroke="#555" stroke-width="1.3" />
<text transform="translate(1180.82,16) scale(1.0,1)" font-size="21.77" letter-spacing="0" fill="#000">N</text>
<circle cx="1178.4" cy="75.3" r="3.5" fill="#ffe0e0" stroke="#000" stroke-width="1.2"/>
<circle cx="1138" cy="81.6" r="3.5" fill="#c8c8ff" stroke="#000" stroke-width="1.2"/>
<circle cx="1155.3" cy="85.5" r="3.5" fill="#c8c8ff" stroke="#000" stroke-width="1.2"/>
<circle cx="1108.5" cy="96.1" r="3.5" fill="#c8c8ff" stroke="#000" stroke-width="1.2"/>
<circle cx="1112.9" cy="100.3" r="3.5" fill="#ffe0e0" stroke="#000" stroke-width="1.2"/>
<circle cx="1098" cy="102.2" r="3.5" fill="#ebebff" stroke="#000" stroke-width="1.2"/>
<circle cx="1114.1" cy="113.1" r="3.5" fill="#ffe0e0" stroke="#000" stroke-width="1.2"/>
<circle cx="1103.6" cy="119.9" r="3.5" fill="#ffd0d0" stroke="#000" stroke-width="1.2"/>
<circle cx="1122.6" cy="121.3" r="3.5" fill="#ffe0e0" stroke="#000" stroke-width="1.2"/>
<circle cx="1195" cy="72.3" r="3.5" fill="#ffe0e0" stroke="#000" stroke-width="1.2"/>
<circle cx="1198.2" cy="79.6" r="3.5" fill="#ffaaaa" stroke="#000" stroke-width="1.2"/>
<circle cx="1103.9" cy="135.1" r="3.5" fill="#e6e6ff" stroke="#000" stroke-width="1.2"/>
<circle cx="1142.5" cy="134.8" r="3.5" fill="#ff9999" stroke="#000" stroke-width="1.2"/>
<circle cx="1070.4" cy="153.8" r="3.5" fill="#ff9999" stroke="#000" stroke-width="1.2"/>
<circle cx="1079.8" cy="152.6" r="3.5" fill="#ffe0e0" stroke="#000" stroke-width="1.2"/>
<circle cx="1088.6" cy="150.8" r="3.5" fill="#c0c0ff" stroke="#000" stroke-width="1.2"/>
<circle cx="1096.3" cy="150.4" r="3.5" fill="#ffc0c0" stroke="#000" stroke-width="1.2"/>
<circle cx="1103.1" cy="165.7" r="3.5" fill="#ffe0e0" stroke="#000" stroke-width="1.2"/>
<circle cx="1156.2" cy="160.1" r="3.5" fill="#ff8888" stroke="#000" stroke-width="1.2"/>
<circle cx="1065.6" cy="172.5" r="3.5" fill="#ffd0d0" stroke="#000" stroke-width="1.2"/>
<circle cx="1065.6" cy="179" r="3.5" fill="#ffbbbb" stroke="#000" stroke-width="1.2"/>
<circle cx="1057.1" cy="200.3" r="3.5" fill="#ffffff" stroke="#000" stroke-width="1.2"/>
<circle cx="1281.2" cy="146.7" r="3.5" fill="#ffffff" stroke="#000" stroke-width="1.2"/>
<circle cx="1311" cy="150.4" r="3.5" fill="#a0a0ff" stroke="#000" stroke-width="1.2"/>
<circle cx="1265.1" cy="170.8" r="3.5" fill="#f0f0ff" stroke="#000" stroke-width="1.2"/>
<circle cx="1054.2" cy="211.6" r="3.5" fill="#ff9999" stroke="#000" stroke-width="1.2"/>
<circle cx="1088.3" cy="217.5" r="3.5" fill="#ff9999" stroke="#000" stroke-width="1.2"/>
<circle cx="1104.4" cy="222.1" r="3.5" fill="#ff6666" stroke="#000" stroke-width="1.2"/>
<circle cx="1116" cy="217" r="3.5" fill="#ff8080" stroke="#000" stroke-width="1.2"/>
<circle cx="1059.3" cy="246.8" r="3.5" fill="#ffffff" stroke="#000" stroke-width="1.2"/>
<circle cx="1080.6" cy="245.9" r="3.5" fill="#ffaaaa" stroke="#000" stroke-width="1.2"/>
<circle cx="1068.7" cy="260.4" r="3.5" fill="#fff5f5" stroke="#000" stroke-width="1.2"/>
<circle cx="1061.7" cy="264.7" r="3.5" fill="#ffffff" stroke="#000" stroke-width="1.2"/>
<circle cx="1070.2" cy="269" r="3.5" fill="#fff0f0" stroke="#000" stroke-width="1.2"/>
<circle cx="1136.8" cy="271.5" r="3.5" fill="#ebebff" stroke="#000" stroke-width="1.2"/>
<circle cx="1169.1" cy="269.5" r="3.5" fill="#ebebff" stroke="#000" stroke-width="1.2"/>
<circle cx="1092.7" cy="275.5" r="3.5" fill="#ffffff" stroke="#000" stroke-width="1.2"/>
<circle cx="1269.3" cy="241.7" r="3.5" fill="#ffd0d0" stroke="#000" stroke-width="1.2"/>
<circle cx="1295" cy="247.6" r="3.5" fill="#9090ff" stroke="#000" stroke-width="1.2"/>
<circle cx="1315.3" cy="263.8" r="3.5" fill="#ff7777" stroke="#000" stroke-width="1.2"/>
<circle cx="1325" cy="269.8" r="3.5" fill="#9090ff" stroke="#000" stroke-width="1.2"/>
<circle cx="1068.5" cy="279.4" r="3.5" fill="#ffd0d0" stroke="#000" stroke-width="1.2"/>
<circle cx="1153.8" cy="299.3" r="3.5" fill="#ffe0e0" stroke="#000" stroke-width="1.2"/>
<circle cx="1087.2" cy="307.4" r="3.5" fill="#c8c8ff" stroke="#000" stroke-width="1.2"/>
<circle cx="1101.4" cy="322.4" r="3.5" fill="#b8b8ff" stroke="#000" stroke-width="1.2"/>
<circle cx="1135.4" cy="323.6" r="3.5" fill="#ffcccc" stroke="#000" stroke-width="1.2"/>
<circle cx="1157.9" cy="334.5" r="3.5" fill="#ffbbbb" stroke="#000" stroke-width="1.2"/>
<circle cx="1108.6" cy="337.5" r="3.5" fill="#5050ff" stroke="#000" stroke-width="1.2"/>
<circle cx="1120.5" cy="339.1" r="3.5" fill="#4040ff" stroke="#000" stroke-width="1.2"/>
<circle cx="1253.2" cy="291.8" r="3.5" fill="#ffffff" stroke="#000" stroke-width="1.2"/>
<circle cx="1272.7" cy="290.1" r="3.5" fill="#e6e6ff" stroke="#000" stroke-width="1.2"/>
<circle cx="1281.6" cy="291.6" r="3.5" fill="#b0b0ff" stroke="#000" stroke-width="1.2"/>
<circle cx="1303.9" cy="293" r="3.5" fill="#5555ff" stroke="#000" stroke-width="1.2"/>
<circle cx="1312.2" cy="293" r="3.5" fill="#7777ff" stroke="#000" stroke-width="1.2"/>
<circle cx="1222.9" cy="310.8" r="3.5" fill="#ffffff" stroke="#000" stroke-width="1.2"/>
<circle cx="1282.6" cy="320.7" r="3.5" fill="#8080ff" stroke="#000" stroke-width="1.2"/>
<circle cx="1260.8" cy="324.5" r="3.5" fill="#a0a0ff" stroke="#000" stroke-width="1.2"/>
<circle cx="1257.9" cy="330.4" r="3.5" fill="#d0d0ff" stroke="#000" stroke-width="1.2"/>
<circle cx="1265.9" cy="335.1" r="3.5" fill="#7070ff" stroke="#000" stroke-width="1.2"/>
<circle cx="1262" cy="341.5" r="3.5" fill="#9090ff" stroke="#000" stroke-width="1.2"/>
<circle cx="1220.2" cy="337.8" r="3.5" fill="#d0d0ff" stroke="#000" stroke-width="1.2"/>
<circle cx="1187.4" cy="337.9" r="3.5" fill="#ffaaaa" stroke="#000" stroke-width="1.2"/>
<circle cx="1191.8" cy="345" r="3.5" fill="#ff9090" stroke="#000" stroke-width="1.2"/>
<circle cx="1132.2" cy="348.1" r="3.5" fill="#9090ff" stroke="#000" stroke-width="1.2"/>
<circle cx="1151" cy="346" r="3.5" fill="#d0d0ff" stroke="#000" stroke-width="1.2"/>
<circle cx="1155.2" cy="356.4" r="3.5" fill="#9999ff" stroke="#000" stroke-width="1.2"/>
<circle cx="1185.8" cy="349.9" r="3.5" fill="#ff9090" stroke="#000" stroke-width="1.2"/>
<circle cx="1190.6" cy="360.3" r="3.5" fill="#c8c8ff" stroke="#000" stroke-width="1.2"/>
<circle cx="1210.1" cy="361.3" r="3.5" fill="#ffffff" stroke="#000" stroke-width="1.2"/>
<circle cx="1237.3" cy="352" r="3.5" fill="#ffaaaa" stroke="#000" stroke-width="1.2"/>
<circle cx="1241.4" cy="353" r="3.5" fill="#e0e0ff" stroke="#000" stroke-width="1.2"/>
<circle cx="1253.7" cy="348.1" r="3.5" fill="#a0a0ff" stroke="#000" stroke-width="1.2"/>
<text transform="translate(1019.26,412) scale(0.95,1)" font-size="10.38" letter-spacing="2.532" fill="#000">Residuals as a function of azimuth and distance</text>
<text transform="translate(1012.25,423) scale(0.95,1)" font-size="10.58" letter-spacing="2.547" fill="#000">Center (10km), Circle at 30, 100, 300 and 1000 km</text>
<rect x="1389.3" y="59.30" width="22.0" height="14.71" fill="rgb(0,0,255)"/>
<rect x="1389.3" y="73.71" width="22.0" height="14.71" fill="rgb(26,26,255)"/>
<rect x="1389.3" y="88.12" width="22.0" height="14.71" fill="rgb(51,51,255)"/>
<rect x="1389.3" y="102.53" width="22.0" height="14.71" fill="rgb(76,76,255)"/>
<rect x="1389.3" y="116.94" width="22.0" height="14.71" fill="rgb(102,102,255)"/>
<rect x="1389.3" y="131.35" width="22.0" height="14.71" fill="rgb(128,128,255)"/>
<rect x="1389.3" y="145.76" width="22.0" height="14.71" fill="rgb(153,153,255)"/>
<rect x="1389.3" y="160.17" width="22.0" height="14.71" fill="rgb(178,178,255)"/>
<rect x="1389.3" y="174.58" width="22.0" height="14.71" fill="rgb(204,204,255)"/>
<rect x="1389.3" y="188.99" width="22.0" height="14.71" fill="rgb(230,230,255)"/>
<rect x="1389.3" y="203.40" width="22.0" height="14.71" fill="rgb(255,255,255)"/>
<rect x="1389.3" y="217.80" width="22.0" height="14.71" fill="rgb(255,230,230)"/>
<rect x="1389.3" y="232.21" width="22.0" height="14.71" fill="rgb(255,204,204)"/>
<rect x="1389.3" y="246.62" width="22.0" height="14.71" fill="rgb(255,178,178)"/>
<rect x="1389.3" y="261.03" width="22.0" height="14.71" fill="rgb(255,153,153)"/>
<rect x="1389.3" y="275.44" width="22.0" height="14.71" fill="rgb(255,128,128)"/>
<rect x="1389.3" y="289.85" width="22.0" height="14.71" fill="rgb(255,102,102)"/>
<rect x="1389.3" y="304.26" width="22.0" height="14.71" fill="rgb(255,76,76)"/>
<rect x="1389.3" y="318.67" width="22.0" height="14.71" fill="rgb(255,51,51)"/>
<rect x="1389.3" y="333.08" width="22.0" height="14.71" fill="rgb(255,26,26)"/>
<rect x="1389.3" y="347.49" width="22.0" height="14.71" fill="rgb(255,0,0)"/>
<path d="M1389.3 73.71 L1389.3 361.9 L1411.3 361.9 L1411.3 73.71" fill="none" stroke="#444" stroke-width="1"/>
<text transform="translate(1418.19,69) scale(0.95,1)" font-size="6.74" letter-spacing="2.662" fill="#000" style="stroke-width:0.1px">1.0</text>
<text transform="translate(1418.19,98) scale(0.95,1)" font-size="6.74" letter-spacing="2.662" fill="#000" style="stroke-width:0.1px">0.8</text>
<text transform="translate(1418.19,127) scale(0.95,1)" font-size="6.74" letter-spacing="2.662" fill="#000" style="stroke-width:0.1px">0.6</text>
<text transform="translate(1418.19,156) scale(0.95,1)" font-size="6.74" letter-spacing="2.662" fill="#000" style="stroke-width:0.1px">0.4</text>
<text transform="translate(1418.19,184) scale(0.95,1)" font-size="6.74" letter-spacing="2.662" fill="#000" style="stroke-width:0.1px">0.2</text>
<text transform="translate(1418.19,213) scale(0.95,1)" font-size="6.74" letter-spacing="2.662" fill="#000" style="stroke-width:0.1px">0.0</text>
<text transform="translate(1418.19,242) scale(0.95,1)" font-size="6.74" letter-spacing="2.662" fill="#000" style="stroke-width:0.1px">-0.2</text>
<text transform="translate(1418.19,271) scale(0.95,1)" font-size="6.74" letter-spacing="2.662" fill="#000" style="stroke-width:0.1px">-0.4</text>
<text transform="translate(1418.19,300) scale(0.95,1)" font-size="6.74" letter-spacing="2.662" fill="#000" style="stroke-width:0.1px">-0.6</text>
<text transform="translate(1418.19,328) scale(0.95,1)" font-size="6.74" letter-spacing="2.662" fill="#000" style="stroke-width:0.1px">-0.8</text>
<text transform="translate(1418.19,357) scale(0.95,1)" font-size="6.74" letter-spacing="2.662" fill="#000" style="stroke-width:0.1px">-1.0</text>
<text transform="translate(1389.99,52) scale(1.0,1)" font-size="11.11" letter-spacing="0.337" fill="#000">Res</text>
</svg></body></html>
